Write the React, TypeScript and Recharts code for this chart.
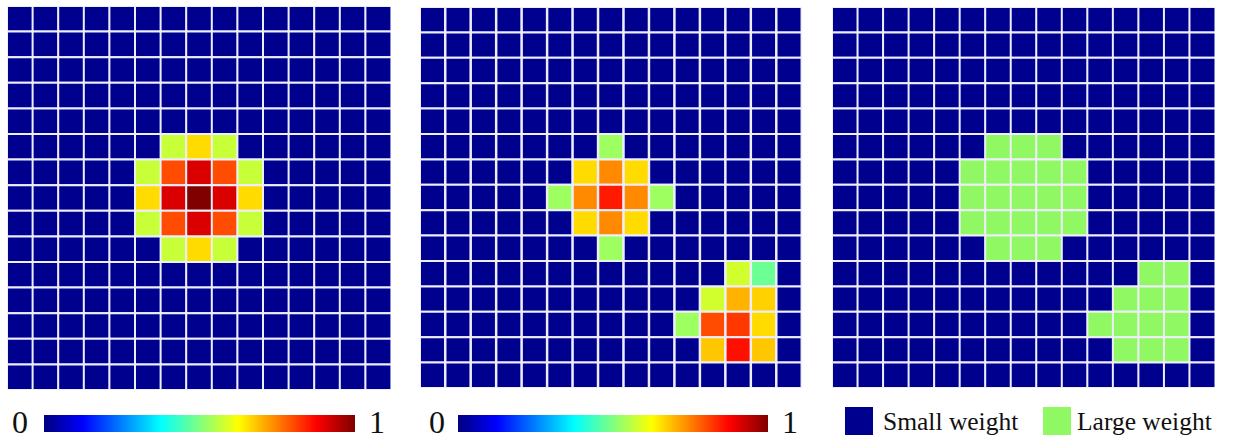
import React from "react";
import { BarChart, Bar, XAxis, YAxis, Cell } from "recharts";

// 15 x 15 weight grids (row 0 = top, col 0 = left)
const GRID_ROWS = [0, 1, 2, 3, 4, 5, 6, 7, 8, 9, 10, 11, 12, 13, 14];
const GRID_COLS = [0, 1, 2, 3, 4, 5, 6, 7, 8, 9, 10, 11, 12, 13, 14];

// [row, col, weight] — cells not listed have weight 0
const PANEL1_CELLS: [number, number, number][] = [
  [5, 6, 0.57], [5, 7, 0.66], [5, 8, 0.57],
  [6, 5, 0.57], [6, 6, 0.8], [6, 7, 0.91], [6, 8, 0.8], [6, 9, 0.57],
  [7, 5, 0.66], [7, 6, 0.91], [7, 7, 1.0], [7, 8, 0.91], [7, 9, 0.66],
  [8, 5, 0.57], [8, 6, 0.8], [8, 7, 0.91], [8, 8, 0.8], [8, 9, 0.57],
  [9, 6, 0.57], [9, 7, 0.66], [9, 8, 0.57],
];

const PANEL2_CELLS: [number, number, number][] = [
  [5, 7, 0.53],
  [6, 6, 0.66], [6, 7, 0.74], [6, 8, 0.66],
  [7, 5, 0.53], [7, 6, 0.74], [7, 7, 0.85], [7, 8, 0.74], [7, 9, 0.53],
  [8, 6, 0.66], [8, 7, 0.74], [8, 8, 0.66],
  [9, 7, 0.53],
  [10, 12, 0.58], [10, 13, 0.48],
  [11, 11, 0.58], [11, 12, 0.7], [11, 13, 0.67],
  [12, 10, 0.53], [12, 11, 0.8], [12, 12, 0.82], [12, 13, 0.66],
  [13, 11, 0.68], [13, 12, 0.86], [13, 13, 0.68],
];

// [row, col] cells with large weight
const PANEL3_LARGE: [number, number][] = [
  [5, 6], [5, 7], [5, 8],
  [6, 5], [6, 6], [6, 7], [6, 8], [6, 9],
  [7, 5], [7, 6], [7, 7], [7, 8], [7, 9],
  [8, 5], [8, 6], [8, 7], [8, 8], [8, 9],
  [9, 6], [9, 7], [9, 8],
  [10, 12], [10, 13],
  [11, 11], [11, 12], [11, 13],
  [12, 10], [12, 11], [12, 12], [12, 13],
  [13, 11], [13, 12], [13, 13],
];

const LEGEND_LABELS = ["Small weight", "Large weight"];
const COLORBAR_TICKS = ["0", "1"];

const BLUE = "#00008f";
const GREEN = "#90f862";
const GRID_LINE = "#eeeefb";
const SERIF = "'Liberation Serif', 'Times New Roman', serif";

const clamp = (v: number) => Math.max(0, Math.min(1, v));
const jet = (v: number) => {
  if (v <= 0) return BLUE;
  const r = clamp(1.5 - Math.abs(4 * v - 3));
  const g = clamp(1.5 - Math.abs(4 * v - 2));
  const b = clamp(1.5 - Math.abs(4 * v - 1));
  const h = (x: number) => Math.round(x * 255).toString(16).padStart(2, "0");
  return `#${h(r)}${h(g)}${h(b)}`;
};

const lookup = (cells: [number, number, number][]) => {
  const m = new Map<string, number>();
  cells.forEach(([r, c, v]) => m.set(`${r}-${c}`, v));
  return (r: number, c: number) => m.get(`${r}-${c}`) ?? 0;
};

const w1 = lookup(PANEL1_CELLS);
const w2 = lookup(PANEL2_CELLS);
const largeSet = new Set(PANEL3_LARGE.map(([r, c]) => `${r}-${c}`));

const gridData = GRID_COLS.map((c) => {
  const d: Record<string, number> = { col: c };
  GRID_ROWS.forEach((r) => {
    d[`r${r}`] = 1;
  });
  return d;
});

function Panel(props: {
  left: number;
  top: number;
  width: number;
  height: number;
  colorOf: (r: number, c: number) => string;
}) {
  const { left, top, width, height, colorOf } = props;
  return (
    <div style={{ position: "absolute", left, top, width, height }}>
      <BarChart
        width={width}
        height={height}
        data={gridData}
        margin={{ top: 0, right: 0, bottom: 0, left: 0 }}
        barCategoryGap={0}
        barGap={0}
      >
        <XAxis dataKey="col" hide />
        <YAxis hide reversed type="number" domain={[0, 15]} />
        {GRID_ROWS.map((r) => (
          <Bar
            key={r}
            dataKey={`r${r}`}
            stackId="grid"
            isAnimationActive={false}
            stroke={GRID_LINE}
            strokeWidth={2}
          >
            {GRID_COLS.map((c) => (
              <Cell key={c} fill={colorOf(r, c)} />
            ))}
          </Bar>
        ))}
      </BarChart>
    </div>
  );
}

const JET_STOPS = [
  [0, "#00007f"],
  [0.125, "#0000ff"],
  [0.375, "#00ffff"],
  [0.5, "#80ff80"],
  [0.625, "#ffff00"],
  [0.875, "#ff0000"],
  [1, "#7f0000"],
] as const;

export default function App() {
  return (
    <div
      style={{
        position: "absolute",
        left: 0,
        top: 0,
        width: 1233,
        height: 445,
        background: "#ffffff",
        overflow: "hidden",
      }}
    >
      <Panel left={7} top={6} width={384} height={384} colorOf={(r, c) => jet(w1(r, c))} />
      <Panel left={420} top={7} width={382} height={381} colorOf={(r, c) => jet(w2(r, c))} />
      <Panel
        left={832}
        top={7}
        width={383}
        height={381}
        colorOf={(r, c) => (largeSet.has(`${r}-${c}`) ? GREEN : BLUE)}
      />
      <svg
        width={1233}
        height={445}
        style={{ position: "absolute", left: 0, top: 0, pointerEvents: "none" }}
      >
        <defs>
          <linearGradient id="jetGrad" x1="0" x2="1" y1="0" y2="0">
            {JET_STOPS.map(([o, col]) => (
              <stop key={o} offset={o} stopColor={col} />
            ))}
          </linearGradient>
        </defs>
        <g fontFamily={SERIF} fill="#111" fontSize={32} textAnchor="middle">
          <text x={20} y={433}>{COLORBAR_TICKS[0]}</text>
          <text x={377} y={433}>{COLORBAR_TICKS[1]}</text>
          <text x={437} y={433}>{COLORBAR_TICKS[0]}</text>
          <text x={790} y={433}>{COLORBAR_TICKS[1]}</text>
        </g>
        <rect x={44} y={415} width={311} height={17} fill="url(#jetGrad)" />
        <rect x={458} y={415} width={310} height={17} fill="url(#jetGrad)" />
        <rect x={845} y={407} width={28} height={28} fill={BLUE} />
        <rect x={1043} y={407} width={28} height={28} fill={GREEN} />
        <g fontFamily={SERIF} fill="#111" fontSize={25.5}>
          <text x={883} y={430}>{LEGEND_LABELS[0]}</text>
          <text x={1077} y={430}>{LEGEND_LABELS[1]}</text>
        </g>
      </svg>
    </div>
  );
}
